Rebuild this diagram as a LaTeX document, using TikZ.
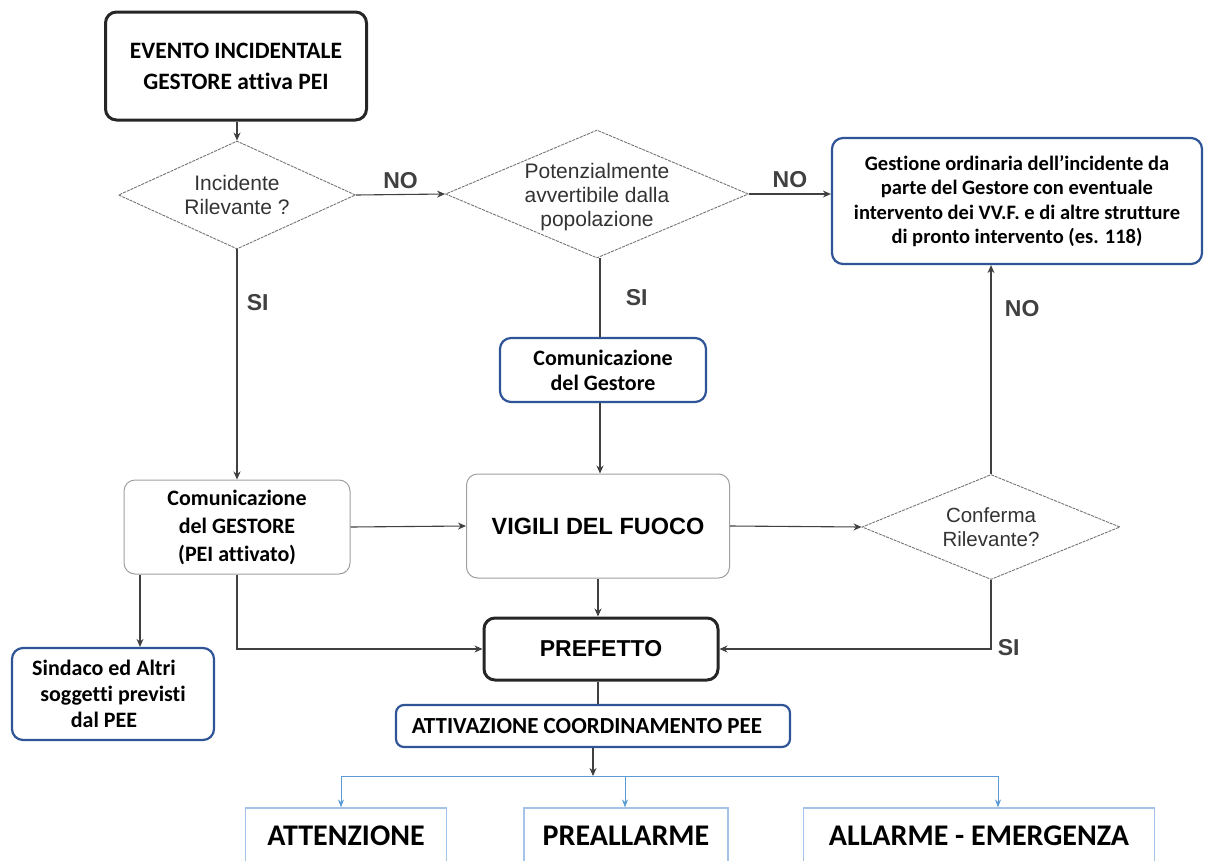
\documentclass[tikz,border=0pt]{standalone}
\usepackage{fontspec}
\setmainfont[Ligatures=NoCommon]{Carlito}
\newfontfamily\arialfont{Liberation Sans}
\usetikzlibrary{shapes.geometric,arrows.meta}

\definecolor{bordoblu}{RGB}{47,85,151}
\definecolor{ramoblu}{RGB}{91,155,213}
\definecolor{bordochiaro}{RGB}{165,195,232}

\tikzset{
  box/.style={draw=gray!75,line width=1pt,rounded corners=11pt,align=center,inner sep=0pt,
    font=\bfseries\fontsize{22}{26}\selectfont},
  boxnero/.style={box,draw=black!85,line width=3pt},
  boxblu/.style={box,draw=bordoblu,line width=2.2pt},
  livello/.style={draw=bordochiaro,line width=1.2pt,inner sep=0pt,
    font=\bfseries\fontsize{30}{36}\selectfont},
  rombo/.style={diamond,draw=black!55,line width=0.9pt,dash pattern=on 3pt off 1pt,inner sep=0pt},
  testorombo/.style={font=\arialfont\fontsize{21}{24}\selectfont,text=black!80,align=center},
  etich/.style={font=\arialfont\bfseries\fontsize{23}{24}\selectfont},
  freccia/.style={-{Stealth[length=8pt,width=7pt]},line width=1.1pt,black!75},
  linea/.style={line width=1.1pt,black!75},
  ramo/.style={-{Stealth[length=8pt,width=6pt]},line width=1pt,ramoblu}
}

\begin{document}
\begin{tikzpicture}[x=1pt,y=-1pt]
  \useasboundingbox (0,0) rectangle (1205,860);
  %% Nodi
  \node[boxnero,minimum width=261,minimum height=108,font=\bfseries\fontsize{23.5}{31}\selectfont] (evento) at (236,66)
    {EVENTO INCIDENTALE\\GESTORE attiva PEI};
  \node[rombo,minimum width=237,minimum height=108,
    label={[testorombo]center:Incidente\\Rilevante ?}] (ril) at (237,195) {};
  \node[rombo,minimum width=303,minimum height=128,
    label={[testorombo,yshift=-3pt]center:Potenzialmente\\avvertibile dalla\\popolazione}] (pop) at (597,194) {};
  \node[boxblu,minimum width=370,minimum height=126,font=\bfseries\fontsize{20.5}{24.5}\selectfont] (gest) at (1017,201)
    {Gestione ordinaria dell’incidente da\\parte del Gestore con eventuale\\intervento dei VV.F. e di altre strutture\\di pronto intervento (es. 118)};
  \node[boxblu,minimum width=206,minimum height=64,font=\bfseries\fontsize{22}{25}\selectfont] (comg) at (603,370)
    {Comunicazione\\del Gestore};
  \node[box,minimum width=226,minimum height=94,font=\bfseries\fontsize{22}{28}\selectfont] (comG) at (237,527)
    {Comunicazione\\del GESTORE\\(PEI attivato)};
  \node[box,minimum width=263,minimum height=104,font=\arialfont\bfseries\fontsize{23.5}{24}\selectfont] (vvf) at (598,526)
    {VIGILI DEL FUOCO};
  \node[rombo,minimum width=258,minimum height=105,
    label={[testorombo,font=\arialfont\fontsize{20.5}{24}\selectfont]center:Conferma\\Rilevante?}] (conf) at (991,527) {};
  \node[boxnero,minimum width=234,minimum height=62,font=\arialfont\bfseries\fontsize{23}{24}\selectfont] (pref) at (601,649)
    {PREFETTO};
  \node[boxblu,minimum width=202,minimum height=92,font=\bfseries\fontsize{22}{26}\selectfont] (sind) at (113,694)
    {Sindaco ed Altri\hspace*{18pt}\\soggetti previsti\hspace*{18pt}\\dal PEE\hspace*{18pt}};
  \node[boxblu,rounded corners=8pt,minimum width=394,minimum height=42,font=\bfseries\fontsize{23}{24}\selectfont] (attiv) at (593,726)
    {ATTIVAZIONE COORDINAMENTO PEE\hspace*{12pt}};
  %% Livelli
  \foreach \nome/\cx/\larg/\testo in {att/346/201/ATTENZIONE,preal/626/204/PREALLARME,allarme/979/351/ALLARME - EMERGENZA}
    \node[livello,minimum width=\larg,minimum height=56] (\nome) at (\cx,836) {\testo};
  \coordinate (bivio) at (593,776);
  %% Collegamenti
  \draw[freccia] (evento.south -| ril.north) -- (ril.north);
  \draw[freccia] (ril.east) -- node[etich,above=2pt] {NO} (pop.west);
  \draw[freccia] (pop.east) -- node[etich,above=2pt] {NO} (pop.east -| gest.west);
  \draw[freccia] (ril.south) -- node[etich,pos=0.23,right=6pt] {SI} (comG.north);
  \draw[linea] (600,0 |- pop.south) -- node[etich,pos=0.5,right=22pt] {SI} (600,0 |- comg.north);
  \draw[freccia] (600,0 |- comg.south) -- (600,0 |- vvf.north);
  \draw[freccia] (comG.east) -- (vvf.west);
  \draw[freccia] (vvf.east) -- (conf.west);
  \draw[freccia] (conf.north) -- node[etich,pos=0.79,right=10pt] {NO} (conf.north |- gest.south);
  \draw[freccia] (conf.south) |- node[etich,pos=0.5,anchor=west,xshift=3pt,yshift=1pt] {SI} (pref.east);
  \draw[freccia] (598,0 |- vvf.south) -- (598,0 |- pref.north);
  \draw[freccia] (comG.south) |- (pref.west);
  \draw[freccia] (140,0 |- comG.south) -- (140,0 |- sind.north);
  \draw[linea] (598,0 |- pref.south) -- (598,0 |- attiv.north);
  \draw[freccia] (attiv.south) -- (bivio);
  %% Diramazione
  \foreach \nome/\dx in {att/-5,preal/-1,allarme/19}
    \draw[ramo] (bivio) -| ([xshift=\dx]\nome.north);
\end{tikzpicture}
\end{document}
